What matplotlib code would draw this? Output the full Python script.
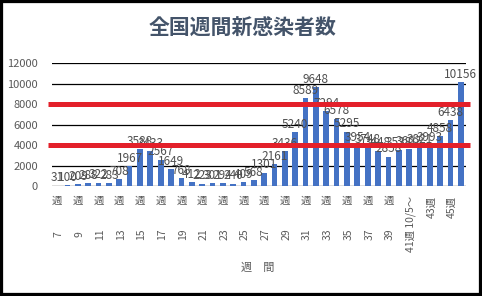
import matplotlib.pyplot as plt
import matplotlib.transforms as mtransforms
from matplotlib.patches import Rectangle

plt.rcParams['font.family'] = ['Noto Sans CJK JP', 'DejaVu Sans']

# 週番号と週間新規感染者数
weeks = list(range(7, 47))
cases = [31, 100, 209, 288, 322, 283, 708, 1967, 3588, 3433,
         2567, 1649, 768, 412, 223, 301, 294, 240, 409, 568,
         1301, 2161, 3436, 5240, 8589, 9648, 7294, 6578, 5295, 3954,
         3748, 3448, 2858, 3538, 3602, 3821, 3993, 4858, 6438, 10156]
tick_weeks = list(range(7, 46, 2))
special_labels = {41: '41週 10/5～', 43: '43週', 45: '45週'}
yticks = [0, 2000, 4000, 6000, 8000, 10000, 12000]
red_levels = [4000, 8000]

W, H = 482, 296
fig = plt.figure(figsize=(W / 100, H / 100), dpi=100)
ax = fig.add_axes([52 / W, 1 - 186 / H, (466 - 52) / W, (186 - 63) / H])

ax.bar(weeks, cases, width=0.55, color='#4472C4', zorder=2)
for w, c in zip(weeks, cases):
    ax.text(w, c + 120, str(c), ha='center', va='bottom', fontsize=8.5,
            color='#505050', zorder=3)

ax.set_xlim(6.5, 46.5)
ax.set_ylim(0, 12000)
ax.set_yticks(yticks)
ax.set_yticklabels([str(v) for v in yticks], fontsize=8, color='#595959')
ax.tick_params(axis='y', length=0, pad=10)
ax.grid(axis='y', color='black', lw=0.9, zorder=1)
ax.set_axisbelow(True)
for s in ax.spines.values():
    s.set_visible(False)
ax.axhline(0, color='#BFBFBF', lw=0.8, zorder=1)

# 赤い基準線
for lv in red_levels:
    ax.plot([6.1, 46.9], [lv, lv], color='#E3202A', lw=3.6, zorder=5,
            clip_on=False, solid_capstyle='butt')

# x軸ラベル
ax.set_xticks(tick_weeks)
ax.set_xticklabels([])
ax.tick_params(axis='x', length=0)
trans = mtransforms.blended_transform_factory(ax.transData, fig.transFigure)
for w in tick_weeks:
    if w in special_labels:
        ax.text(w + 0.15, 1 - 196 / H, special_labels[w], rotation=90,
                ha='center', va='top', fontsize=7.5, color='#595959',
                transform=trans)
    else:
        ax.text(w, 1 - 201 / H, '週', ha='center', va='center', fontsize=7.5,
                color='#595959', transform=trans)
        ax.text(w + 0.15, 1 - 234 / H, str(w), rotation=90, ha='center',
                va='center', fontsize=7.5, color='#595959', transform=trans)

fig.text(258 / W, 1 - 268 / H, '週　間', ha='center', va='center',
         fontsize=8, color='#595959')
fig.text(243 / W, 1 - 28 / H, '全国週間新感染者数', ha='center', va='center',
         fontsize=15, fontweight='bold', color='#44546A')

fig.patches.append(Rectangle((0, 0), 1, 1, transform=fig.transFigure,
                             fill=False, edgecolor='black', lw=4.5))

plt.savefig('out.png', dpi=100)
